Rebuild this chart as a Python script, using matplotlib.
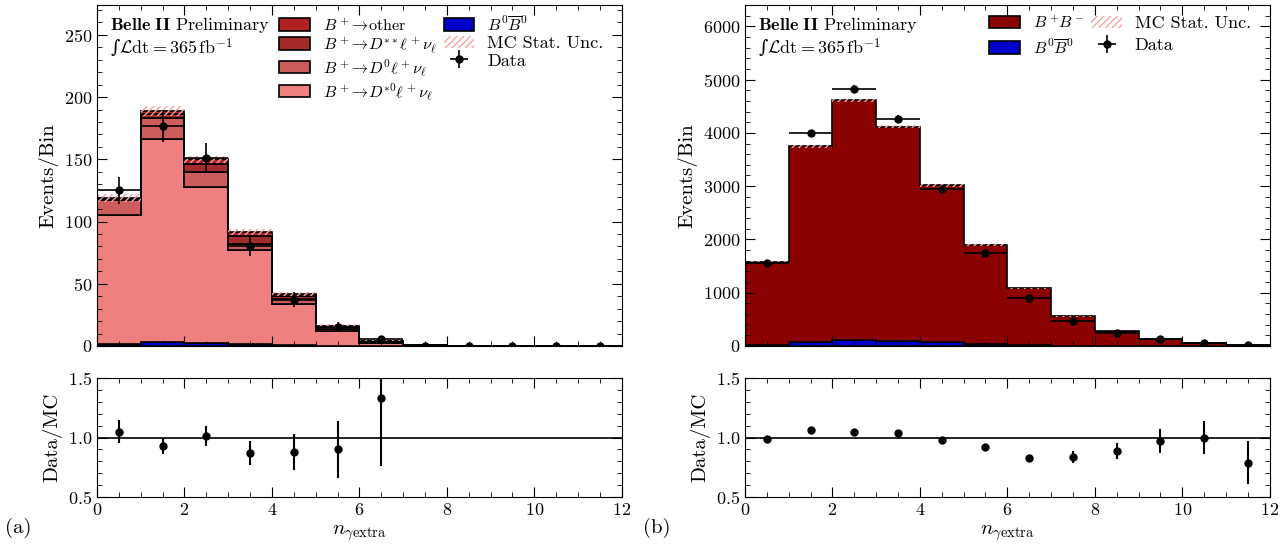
import numpy as np
import matplotlib
matplotlib.use("Agg")
import matplotlib.pyplot as plt
from matplotlib.ticker import MultipleLocator

plt.rcParams['font.family'] = ['cmr10', 'DejaVu Serif']
plt.rcParams['mathtext.fontset'] = 'cm'
plt.rcParams['axes.formatter.use_mathtext'] = True

edges = np.arange(0, 13)
centers = edges[:-1] + 0.5

# (a) B+ channel, stacked components per bin
a_b0b0 = [1.5, 3.5, 2.5, 2.0, 0.8, 0.3, 0.1, 0.05, 0.02, 0.01, 0.0, 0.0]
a_dstar0 = [103.5, 162.5, 125.5, 75.0, 32.6, 12.0, 2.6, 0.35, 0.08, 0.04, 0.02, 0.01]
a_d0 = [12, 17, 12, 5, 4, 1.1, 0.6, 0.1, 0.05, 0.02, 0.01, 0.0]
a_dss = [1, 3, 6, 6, 2.6, 1.6, 0.6, 0.2, 0.05, 0.02, 0.01, 0.0]
a_other = [1, 3, 4, 3.6, 2, 1.3, 0.4, 0.1, 0.05, 0.02, 0.01, 0.01]
a_mcerr = [3, 4, 3, 2.5, 1.5, 1, 0.5, 0.2, 0.1, 0.05, 0.02, 0.01]
a_data = [125, 177, 151, 80, 37, 15, 6, 0, 0, 0, 0, 0]
a_data_err = [11, 13, 12, 8, 6, 4, 2.4, 0, 0, 0, 0, 0]
a_ratio = [1.05, 0.93, 1.01, 0.87, 0.88, 0.90, 1.33]
a_ratio_err = [0.095, 0.065, 0.085, 0.10, 0.15, 0.24, 0.57]

# (b) all events
b_b0b0 = [20, 75, 105, 100, 70, 35, 15, 6, 3, 1, 0.5, 0.2]
b_bpbm = [1562, 3673, 4509, 4019, 2943, 1861, 1072, 553, 280, 131, 56.5, 19.8]
b_mcerr = [15, 25, 30, 25, 20, 15, 10, 8, 5, 4, 3, 2]
b_data = [1560, 3990, 4830, 4265, 2945, 1740, 900, 468, 251, 128, 57, 16]
b_data_err = [40, 63, 69, 65, 54, 42, 30, 22, 16, 11, 7.5, 4]
b_ratio = [0.986, 1.065, 1.047, 1.035, 0.977, 0.918, 0.828, 0.837, 0.886, 0.974, 1.0, 0.787]
b_ratio_err = [0.025, 0.017, 0.015, 0.016, 0.018, 0.023, 0.028, 0.047, 0.07, 0.1, 0.14, 0.18]

fig = plt.figure(figsize=(12.8, 5.52), dpi=100)
axa = fig.add_axes([0.0758, 0.3732, 0.410, 0.6178])
rxa = fig.add_axes([0.0758, 0.0996, 0.410, 0.2156])
axb = fig.add_axes([0.582, 0.3732, 0.410, 0.6178])
rxb = fig.add_axes([0.582, 0.0996, 0.410, 0.2156])


def stack(ax, comps):
    base = np.zeros(12)
    for vals, col, lab in comps:
        top = base + np.array(vals)
        ax.stairs(top, edges, baseline=base, fill=True, facecolor=col,
                  edgecolor='black', linewidth=1.2, label=lab)
        base = top
    return base


def style(ax):
    ax.set_xlim(0, 12)
    ax.tick_params(which='both', direction='in', top=True, right=True, labelsize=13)
    ax.tick_params(which='major', length=7)
    ax.tick_params(which='minor', length=3.5)
    ax.xaxis.set_major_locator(MultipleLocator(2))
    ax.xaxis.set_minor_locator(MultipleLocator(0.5))


comps_a = [(a_b0b0, '#0000cd', r'$B^0\overline{B}^0$'),
           (a_dstar0, '#f08080', r'$B^+\!\rightarrow\! D^{*0}\ell^+\nu_\ell$'),
           (a_d0, '#cd5c5c', r'$B^+\!\rightarrow\! D^0\ell^+\nu_\ell$'),
           (a_dss, '#a52a2a', r'$B^+\!\rightarrow\! D^{**}\ell^+\nu_\ell$'),
           (a_other, '#b22222', r'$B^+\!\rightarrow\!\mathrm{other}$')]
comps_b = [(b_b0b0, '#0000cd', r'$B^0\overline{B}^0$'),
           (b_bpbm, '#8b0000', r'$B^+\!B^-$')]

for ax, rx, comps, mcerr, data, derr, ratio, rerr, ytop, ymaj, ymin, order, lsp in [
        (axa, rxa, comps_a, a_mcerr, a_data, a_data_err, a_ratio, a_ratio_err, 274, 50, 10,
         [4, 3, 2, 1, 0, 5, 6], 0.1),
        (axb, rxb, comps_b, b_mcerr, b_data, b_data_err, b_ratio, b_ratio_err, 6400, 1000, 200,
         [1, 0, 2, 3], 0.35)]:
    total = stack(ax, comps)
    err = np.array(mcerr)
    ax.bar(centers, 2 * err, width=1, bottom=total - err, fill=False, hatch='/////',
           edgecolor='#f4a3a3', linewidth=0, label='MC Stat. Unc.')
    ax.errorbar(centers, data, yerr=derr, xerr=0.5, fmt='o', color='black', ms=5,
                elinewidth=1.2, capsize=0, label='Data')
    style(ax)
    ax.set_ylim(0, ytop)
    ax.yaxis.set_major_locator(MultipleLocator(ymaj))
    ax.yaxis.set_minor_locator(MultipleLocator(ymin))
    ax.set_xticklabels([])
    ax.set_ylabel('Events/Bin', fontsize=15)
    h, l = ax.get_legend_handles_labels()
    leg = ax.legend([h[i] for i in order], [l[i] for i in order], ncol=2, loc='upper right',
                    bbox_to_anchor=(0.985, 1.003), frameon=False, fontsize=13,
                    columnspacing=0.4, labelspacing=lsp, handlelength=1.7,
                    handletextpad=0.7, borderaxespad=0.2)
    for t in leg.get_texts():
        if t.get_text().startswith('$'):
            t.set_fontsize(11.7)
    ax.text(0.025, 0.941, r'$\mathbf{Belle\ II}$ Preliminary', transform=ax.transAxes,
            fontsize=13, va='center')
    ax.text(0.025, 0.874, '∫' + r'$\mathcal{L}\mathrm{dt}=365\,\mathrm{fb}^{-1}$',
            transform=ax.transAxes, fontsize=13, va='center', family='DejaVu Serif',
            math_fontfamily='cm')

    rx.axhline(1.0, color='black', lw=1.2)
    n = len(ratio)
    rx.errorbar(centers[:n], ratio, yerr=rerr, fmt='o', color='black', ms=5,
                elinewidth=1.5, capsize=0)
    style(rx)
    rx.set_ylim(0.5, 1.5)
    rx.yaxis.set_major_locator(MultipleLocator(0.5))
    rx.yaxis.set_minor_locator(MultipleLocator(0.1))
    rx.set_ylabel('Data/MC', fontsize=15)
    rx.set_xlabel(r'$n_{\gamma\mathrm{extra}}$', fontsize=15)

fig.text(0.004, 0.035, '(a)', fontsize=15)
fig.text(0.502, 0.035, '(b)', fontsize=15)

fig.savefig('out.png', dpi=100)
